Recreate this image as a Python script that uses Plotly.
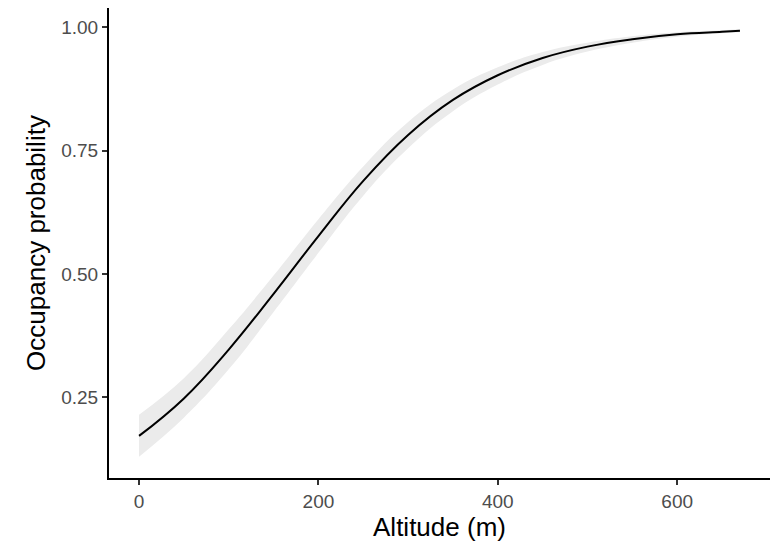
import plotly.graph_objects as go

# Fitted occupancy curve with 95% confidence band
altitude = [0, 50, 100, 150, 200, 250, 300, 350, 400, 450, 500, 550, 600, 650, 670]
occupancy = [0.172, 0.248, 0.347, 0.460, 0.577, 0.689, 0.782, 0.853, 0.903,
             0.938, 0.961, 0.976, 0.986, 0.991, 0.993]
lower = [0.130, 0.209, 0.307, 0.423, 0.543, 0.659, 0.755, 0.830, 0.884,
         0.924, 0.951, 0.969, 0.981, 0.988, 0.990]
upper = [0.215, 0.289, 0.388, 0.497, 0.611, 0.718, 0.808, 0.874, 0.919,
         0.950, 0.969, 0.982, 0.990, 0.994, 0.996]

x_ticks = [0, 200, 400, 600]
y_ticks = [0.25, 0.50, 0.75, 1.00]
y_tick_text = ["0.25", "0.50", "0.75", "1.00"]

band_colour = "#EBEBEB"
font_family = "Liberation Sans, Arial, sans-serif"

fig = go.Figure()
fig.add_trace(go.Scatter(x=altitude, y=lower, mode="lines",
                         line=dict(width=0, shape="spline", smoothing=1.2, color=band_colour),
                         hoverinfo="skip", showlegend=False))
fig.add_trace(go.Scatter(x=altitude, y=upper, mode="lines", fill="tonexty",
                         fillcolor=band_colour,
                         line=dict(width=0, shape="spline", smoothing=1.2, color=band_colour),
                         hoverinfo="skip", showlegend=False))
fig.add_trace(go.Scatter(x=altitude, y=occupancy, mode="lines",
                         line=dict(width=2, shape="spline", smoothing=1.2, color="black"),
                         showlegend=False))

x_pad = 0.05 * (max(altitude) - min(altitude))
y_pad = 0.05 * (max(upper) - min(lower))

fig.update_layout(
    width=780, height=543,
    margin=dict(l=109, r=10, t=8, b=65),
    plot_bgcolor="white", paper_bgcolor="white",
    font=dict(family=font_family, color="#4D4D4D"),
    xaxis=dict(
        range=[min(altitude) - x_pad, max(altitude) + x_pad],
        tickvals=x_ticks, ticks="outside", ticklen=5, tickwidth=2,
        tickcolor="#333333", showgrid=False, zeroline=False,
        showline=True, linecolor="black", linewidth=2,
        tickfont=dict(size=19, color="#4D4D4D"),
        title=dict(text="Altitude (m)", font=dict(size=26, color="black"), standoff=4),
    ),
    yaxis=dict(
        range=[min(lower) - y_pad, max(upper) + y_pad],
        tickvals=y_ticks, ticktext=y_tick_text, ticks="outside", ticklen=5,
        tickwidth=2, tickcolor="#333333", showgrid=False, zeroline=False,
        showline=True, linecolor="black", linewidth=2,
        tickfont=dict(size=19, color="#4D4D4D"),
        title=dict(text="Occupancy probability", font=dict(size=26, color="black"), standoff=8),
    ),
)

fig.write_html("out.html")
